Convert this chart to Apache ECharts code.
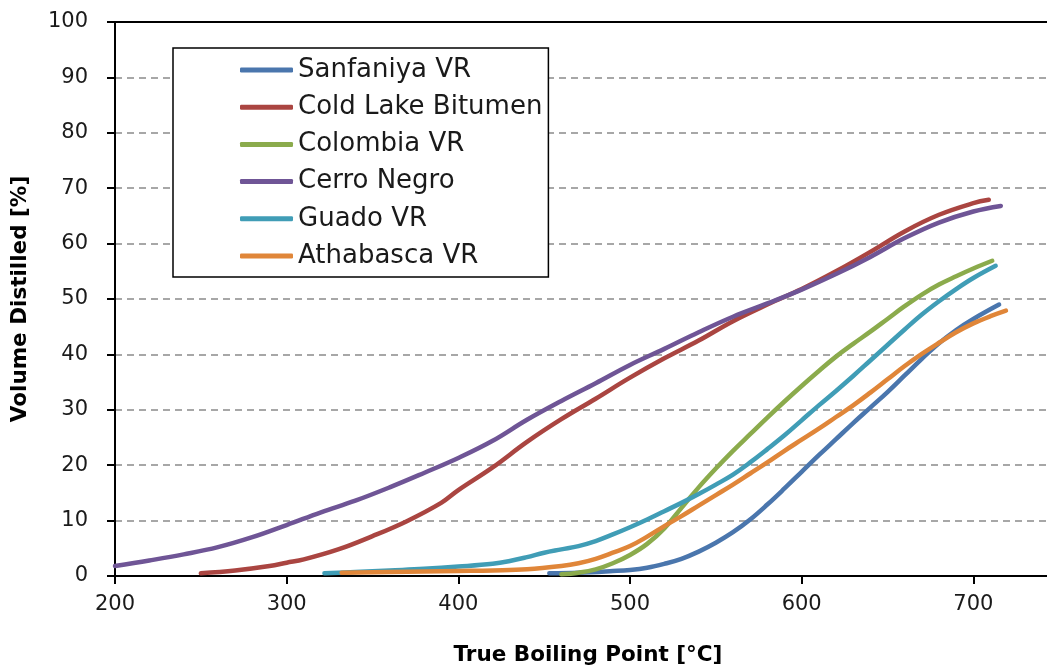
<!DOCTYPE html>
<html>
<head>
<meta charset="utf-8">
<script src="https://cdn.jsdelivr.net/npm/echarts@6/dist/echarts.min.js"></script>
<style>
html,body{margin:0;padding:0;background:#fff;overflow:hidden;}
#chart{width:1047px;height:668px;}
</style>
</head>
<body>
<div id="chart"></div>
<script>
var seriesNames = ['Sanfaniya VR','Cold Lake Bitumen','Colombia VR','Cerro Negro','Guado VR','Athabasca VR'];
var seriesColors = ['#4A76AD','#AA4541','#8BAB4C','#6F5596','#409DB6','#E08639'];
var xTicks = [200,300,400,500,600,700,800];
var yTicks = [0,10,20,30,40,50,60,70,80,90,100];

var sanfaniya = [[453,0.5],[470,0.6],[490,0.9],[500,1.1],[510,1.5],[520,2.2],[530,3.1],[540,4.4],[550,6.0],[560,7.9],[570,10.2],[580,12.9],[590,15.8],[600,18.8],[610,21.8],[620,24.7],[630,27.6],[640,30.4],[650,33.2],[660,36.2],[670,39.2],[680,42.0],[690,44.4],[700,46.4],[715,49.0]];
var coldLake = [[250,0.5],[270,1.0],[290,1.8],[300,2.4],[310,3.0],[330,4.8],[350,7.2],[370,9.9],[390,13.2],[400,15.5],[420,19.6],[440,24.2],[460,28.3],[480,32.0],[500,35.8],[520,39.3],[540,42.5],[560,46.0],[580,49.0],[600,51.8],[620,55.0],[640,58.5],[660,62.2],[680,65.2],[700,67.3],[709,67.9]];
var colombia = [[460,0.3],[470,0.6],[480,1.2],[490,2.3],[500,3.8],[510,5.8],[520,8.6],[530,12.3],[540,16.0],[550,19.4],[560,22.6],[570,25.6],[580,28.6],[590,31.5],[600,34.3],[610,37.0],[620,39.6],[630,41.9],[640,44.1],[650,46.4],[660,48.7],[670,50.8],[680,52.6],[690,54.1],[700,55.5],[711,56.9]];
var cerroNegro = [[200,1.8],[220,2.8],[240,3.9],[260,5.2],[280,7.0],[300,9.2],[320,11.5],[340,13.6],[360,16.0],[380,18.6],[400,21.3],[420,24.4],[440,28.2],[460,31.6],[480,34.8],[500,38.1],[520,41.0],[540,44.0],[560,46.8],[580,49.2],[600,51.7],[620,54.5],[640,57.6],[660,61.0],[680,63.8],[700,65.8],[716,66.8]];
var guado = [[322,0.5],[340,0.7],[360,1.0],[380,1.3],[400,1.7],[420,2.2],[430,2.7],[440,3.4],[450,4.2],[460,4.8],[470,5.4],[480,6.3],[490,7.5],[500,8.8],[510,10.2],[520,11.7],[530,13.2],[540,14.8],[550,16.5],[560,18.3],[570,20.5],[580,22.9],[590,25.4],[600,28.1],[610,30.8],[620,33.4],[630,36.1],[640,38.9],[650,41.7],[660,44.5],[670,47.2],[680,49.6],[690,51.8],[700,53.8],[713,56.0]];
var athabasca = [[332,0.6],[360,0.7],[380,0.8],[400,0.9],[420,1.0],[440,1.2],[460,1.8],[470,2.3],[480,3.1],[490,4.2],[500,5.4],[510,7.1],[520,9.0],[530,10.8],[540,12.7],[550,14.6],[560,16.5],[570,18.5],[580,20.5],[590,22.6],[600,24.6],[610,26.6],[620,28.7],[630,30.8],[640,33.1],[650,35.5],[660,37.9],[670,40.1],[680,42.1],[690,44.0],[700,45.6],[710,46.9],[719,47.9]];

var seriesData = [sanfaniya, coldLake, colombia, cerroNegro, guado, athabasca];

var FONT = 'DejaVu Sans';
var chart = echarts.init(document.getElementById('chart'), null, {renderer:'canvas'});

var series = seriesNames.map(function(n, i){
  return {
    name: n, type: 'line', data: seriesData[i], showSymbol: false, symbol: 'none',
    smooth: 0.4, xAxisIndex: 0, yAxisIndex: 0,
    lineStyle: {color: seriesColors[i], width: 4.5, cap: 'round', join: 'round'},
    itemStyle: {color: seriesColors[i]},
    z: 3
  };
});

chart.setOption({
  animation: false,
  backgroundColor: '#fff',
  color: seriesColors,
  grid: {left: 115, top: 22, height: 554, width: 1030, containLabel: false, outerBoundsMode: 'none'},
  legend: {
    orient: 'vertical', left: 173, top: 48,
    data: seriesNames,
    icon: 'roundRect', itemWidth: 53, itemHeight: 5, itemGap: 11.2,
    padding: [9, 6, 8, 67],
    borderColor: '#000', borderWidth: 1.5, backgroundColor: '#fff',
    textStyle: {fontFamily: FONT, fontSize: 26, lineHeight: 25, color: '#1a1a1a'},
    z: 10
  },
  xAxis: [{
    type: 'value', min: xTicks[0], max: xTicks[xTicks.length-1], interval: 100,
    axisLine: {show: true, onZero: false, lineStyle: {color: '#000', width: 2}},
    axisTick: {show: true, inside: false, length: 8, lineStyle: {color: '#000', width: 2}},
    axisLabel: {fontFamily: FONT, fontSize: 21, color: '#1a1a1a', margin: 18},
    splitLine: {show: false}
  }, {
    type: 'value', position: 'top', min: xTicks[0], max: xTicks[xTicks.length-1],
    axisLine: {show: true, onZero: false, lineStyle: {color: '#000', width: 2}},
    axisTick: {show: false}, axisLabel: {show: false}, splitLine: {show: false}, z: 5
  }],
  yAxis: {
    type: 'value', min: yTicks[0], max: yTicks[yTicks.length-1], interval: 10,
    name: 'Volume Distilled [%]', nameLocation: 'middle', nameGap: 84,
    nameTextStyle: {fontFamily: FONT, fontSize: 21.5, fontWeight: 'bold', color: '#000'},
    axisLine: {show: true, lineStyle: {color: '#000', width: 2}},
    axisTick: {show: true, inside: false, length: 8, lineStyle: {color: '#000', width: 2}},
    axisLabel: {fontFamily: FONT, fontSize: 21, color: '#1a1a1a', margin: 27},
    splitLine: {show: true, lineStyle: {color: '#8a8a8a', width: 1.6, type: [7, 5]}}
  },
  graphic: [{
    type: 'text', x: 588, y: 655,
    style: {text: 'True Boiling Point [°C]', fontFamily: FONT, fontSize: 21.5, fontWeight: 'bold', fill: '#000', align: 'center', verticalAlign: 'middle'}
  }],
  series: series
});
</script>
</body>
</html>
